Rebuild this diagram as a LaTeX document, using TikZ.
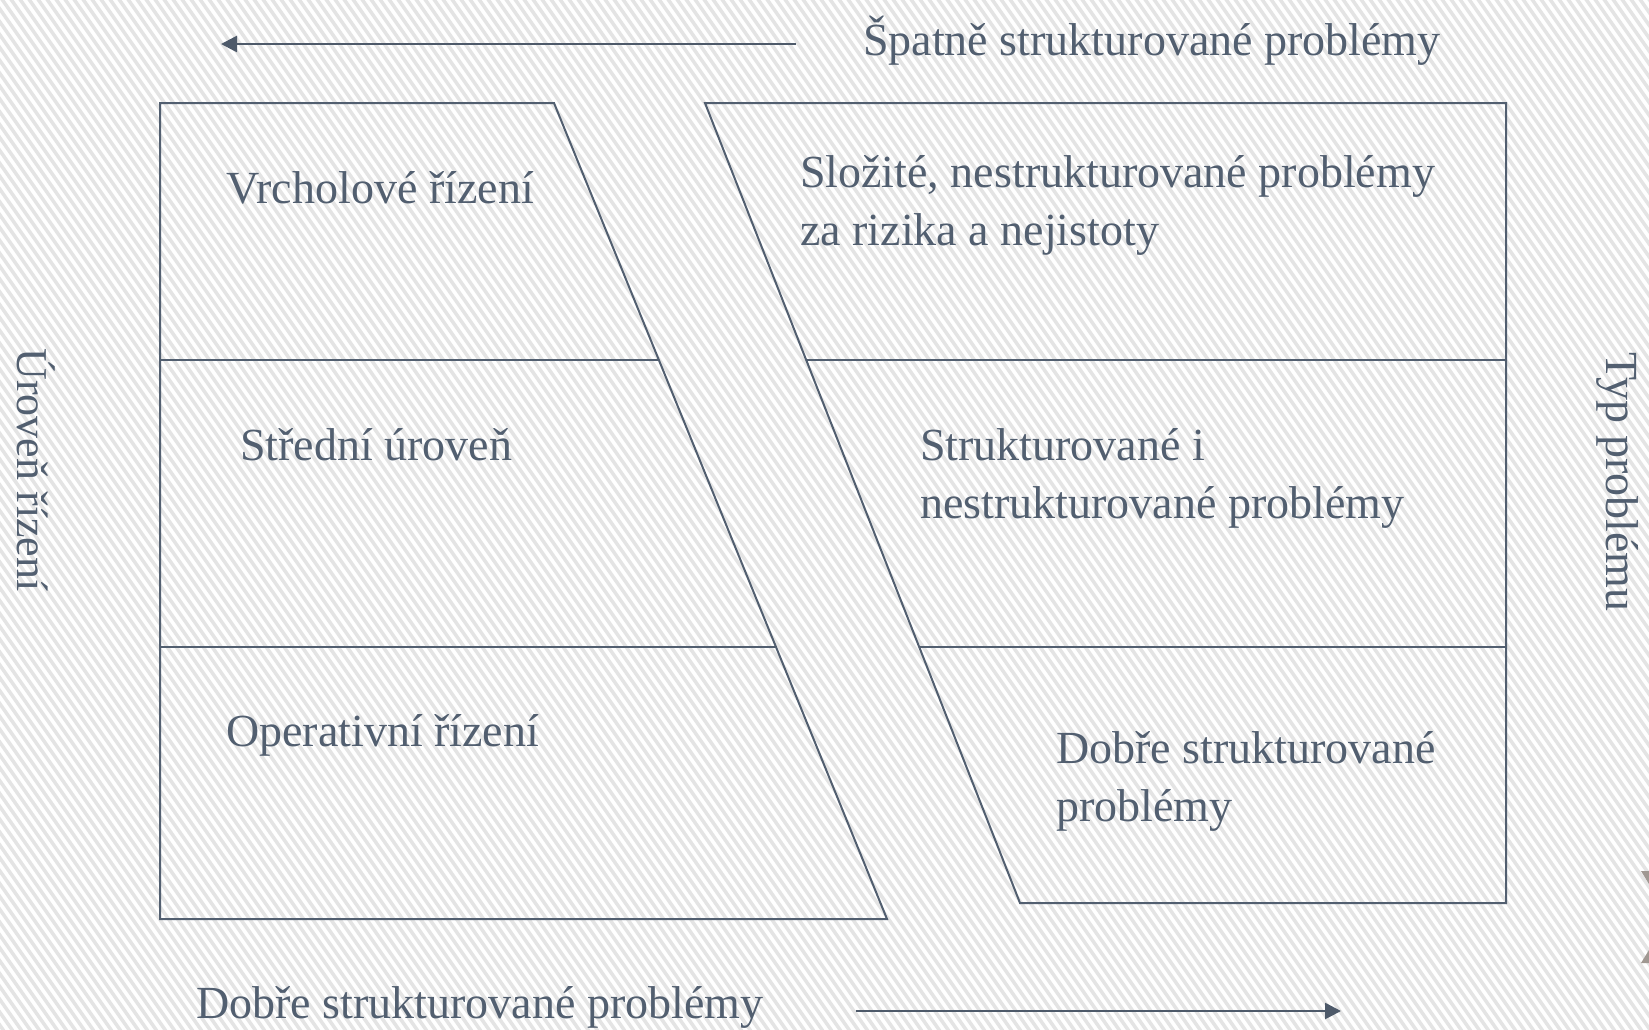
\documentclass[tikz,border=0pt]{standalone}
\usepackage{fontspec}
\setmainfont{Liberation Serif}
\usetikzlibrary{arrows.meta}
\definecolor{ink}{RGB}{82,95,112}
\definecolor{arrowink}{RGB}{78,90,106}
\definecolor{stripe}{RGB}{228,228,228}
\definecolor{deco}{RGB}{160,152,146}
\tikzset{
  boxline/.style={draw=ink, line width=2pt, line join=miter},
  lbl/.style={text=ink, inner sep=0pt, anchor=base west, align=left,
    font=\fontsize{46}{58}\selectfont},
  vlbl/.style={text=ink, inner sep=0pt, anchor=base, rotate=-90,
    font=\fontsize{44}{52}\selectfont},
  axisarrow/.style={draw=arrowink, line width=2.6pt,
    -{Triangle[length=16pt,width=16pt]}}
}
\begin{document}
\begin{tikzpicture}[x=1pt,y=-1pt]
\useasboundingbox (0,0) rectangle (1649,1029);
% background
\fill[white] (0,0) rectangle (1649,1029);
\begin{scope}
  \clip (0,0) rectangle (1649,1029);
  \foreach \s in {-730,-721,...,1660}{
    \draw[stripe, line width=3.5pt] (\s,-5) -- ({\s+727},1034);
  }
\end{scope}
% decoration at the lower right edge
\fill[deco] (1641,871) -- (1649,871) -- (1649,884) -- cycle;
\fill[deco] (1641,963) -- (1649,963) -- (1649,950) -- cycle;
% left block
\draw[boxline] (160,103) -- (554,103) -- (887,919) -- (160,919) -- cycle;
\draw[boxline] (160,360) -- (659,360);
\draw[boxline] (160,647) -- (776,647);
% right block
\draw[boxline] (705,103) -- (1506,103) -- (1506,903) -- (1020,903) -- cycle;
\draw[boxline] (806,360) -- (1506,360);
\draw[boxline] (919,647) -- (1506,647);
% texts
\node[lbl] (vrch) at (226,203) {Vrcholové řízení};
\node[lbl] (stred) at (240,460) {Střední úroveň};
\node[lbl] (oper) at (226,746) {Operativní řízení};
\node[lbl] (slozite) at (800,245) {Složité, nestrukturované problémy\\za rizika a nejistoty};
\node[lbl] (strukt) at (920,518) {Strukturované i\\nestrukturované problémy};
\node[lbl] (dobre) at (1056,821) {Dobře strukturované\\problémy};
\node[lbl] (spatne) at (863,55) {Špatně strukturované problémy};
\node[lbl] (dobredole) at (196,1018) {Dobře strukturované problémy};
\node[vlbl] (uroven) at (17,470) {Úroveň řízení};
\node[vlbl, font=\fontsize{46}{52}\selectfont] (typ) at (1606,482) {Typ problému};
% arrows
\coordinate (topstart) at (796,44);
\coordinate (topend) at (221,44);
\coordinate (botstart) at (856,1011);
\coordinate (botend) at (1341,1011);
\draw[axisarrow] (topstart) -- (topend);
\draw[axisarrow] (botstart) -- (botend);
\end{tikzpicture}
\end{document}
